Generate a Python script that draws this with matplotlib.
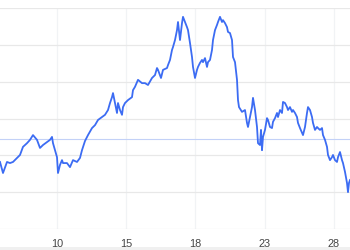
import matplotlib
matplotlib.use("Agg")
import matplotlib.pyplot as plt
from matplotlib.patches import Rectangle

# bar index along the session and the price read at each one
bar_index = [0, 3, 7, 10, 13, 17, 20, 23, 27, 30, 33, 37, 40, 43, 47, 50, 52, 53, 55, 57,
             58, 60, 62, 63, 67, 70, 73, 77, 80, 82, 85, 88, 92, 95, 98, 102, 105, 108, 110, 112,
             113, 115, 117, 118, 120, 122, 123, 125, 128, 132, 133, 135, 138, 142, 145, 148, 152, 155, 157, 158,
             161, 163, 167, 168, 170, 172, 173, 175, 177, 178, 180, 182, 183, 185, 187, 188, 190, 192, 193, 195,
             197, 198, 200, 202, 203, 205, 207, 208, 210, 212, 213, 215, 217, 218, 220, 222, 223, 225, 227, 228,
             230, 232, 233, 235, 237, 238, 239, 242, 245, 247, 248, 250, 252, 253, 255, 257, 258, 260, 261, 262,
             263, 265, 267, 268, 270, 272, 273, 275, 277, 278, 280, 282, 283, 285, 287, 288, 290, 292, 293, 295,
             297, 298, 300, 302, 303, 305, 307, 308, 310, 312, 313, 315, 317, 318, 320, 322, 323, 325, 327, 328,
             330, 332, 333, 335, 337, 338, 340, 342, 343, 345, 347, 348, 349, 350]
price = [78.2, 75.2, 78.2, 77.9, 78.2, 79.3, 80.1, 82.3, 83.3, 84.2, 85.5, 84.2, 82.0, 82.8, 83.6, 84.2, 85.0, 83.3, 81.4, 79.5,
         75.2, 77.4, 78.7, 77.9, 77.9, 76.8, 78.7, 78.2, 79.3, 81.4, 83.9, 85.5, 87.4, 88.2, 89.6, 90.4, 91.0, 92.3, 94.2, 95.8,
         96.9, 94.2, 91.5, 94.2, 92.3, 91.0, 93.1, 94.2, 95.0, 95.8, 97.7, 98.6, 100.5, 99.6, 99.6, 99.1, 101.0, 101.8, 103.7, 103.2,
         101.0, 103.2, 103.7, 104.5, 105.9, 108.6, 109.4, 111.3, 114.0, 116.2, 111.3, 115.9, 117.6, 116.2, 114.8, 114.0, 110.5, 106.7, 104.0, 101.0,
         103.2, 104.0, 105.1, 105.9, 105.3, 106.4, 104.0, 105.3, 105.9, 108.6, 111.3, 114.0, 115.4, 116.2, 117.6, 116.2, 116.7, 115.9, 114.8, 113.5,
         113.2, 111.3, 106.7, 105.3, 100.5, 95.0, 93.1, 91.8, 92.3, 88.8, 87.7, 90.4, 93.1, 95.6, 92.3, 87.7, 83.3, 82.8, 86.9, 81.4,
         85.0, 86.9, 90.1, 89.6, 87.7, 87.4, 89.1, 90.1, 91.5, 90.4, 92.3, 91.5, 94.5, 94.2, 93.1, 92.3, 93.1, 91.8, 92.3, 91.5,
         90.4, 88.8, 87.4, 86.1, 85.5, 87.7, 91.5, 93.1, 92.3, 90.4, 88.8, 86.9, 87.7, 87.4, 86.9, 87.4, 85.5, 84.2, 82.3, 80.1,
         78.7, 79.5, 80.1, 78.7, 78.2, 79.5, 80.9, 78.7, 77.9, 75.5, 72.5, 70.0, 72.5, 73.3]
reference_price = 84.3

tick_positions = [57, 126, 195, 265, 334]
tick_labels = ["10", "15", "18", "23", "28"]
y_grid = [60, 70, 80, 90, 100, 110, 120]

plt.rcParams["font.family"] = ["Liberation Sans", "DejaVu Sans"]

fig = plt.figure(figsize=(3.5, 2.5), dpi=100)
fig.patch.set_facecolor("white")
fig.patches.append(Rectangle((0, 0), 1, 3 / 250, transform=fig.transFigure,
                             facecolor="#f0f0f0", edgecolor="none"))

ax = fig.add_axes([0, 21 / 250, 1, 221 / 250])
ax.set_xlim(0, 350)
ax.set_ylim(60, 120)
for s in ax.spines.values():
    s.set_visible(False)

ax.set_yticks(y_grid)
ax.set_xticks(tick_positions)
ax.set_xticklabels(tick_labels)
ax.tick_params(axis="y", left=False, labelleft=False)
ax.tick_params(axis="x", bottom=False, labelsize=7.8, colors="#444444", pad=4.0)
ax.grid(axis="y", color="#e8e8e8", linewidth=0.9)
ax.grid(axis="x", color="#f1f3f5", linewidth=0.9)
ax.set_axisbelow(True)

ax.axhline(reference_price, color="#c3d1f7", linewidth=0.8, zorder=2)
ax.plot(bar_index, price, color="#3c6cf3", linewidth=1.3, zorder=3, clip_on=True)

fig.savefig("out.png", dpi=100)
